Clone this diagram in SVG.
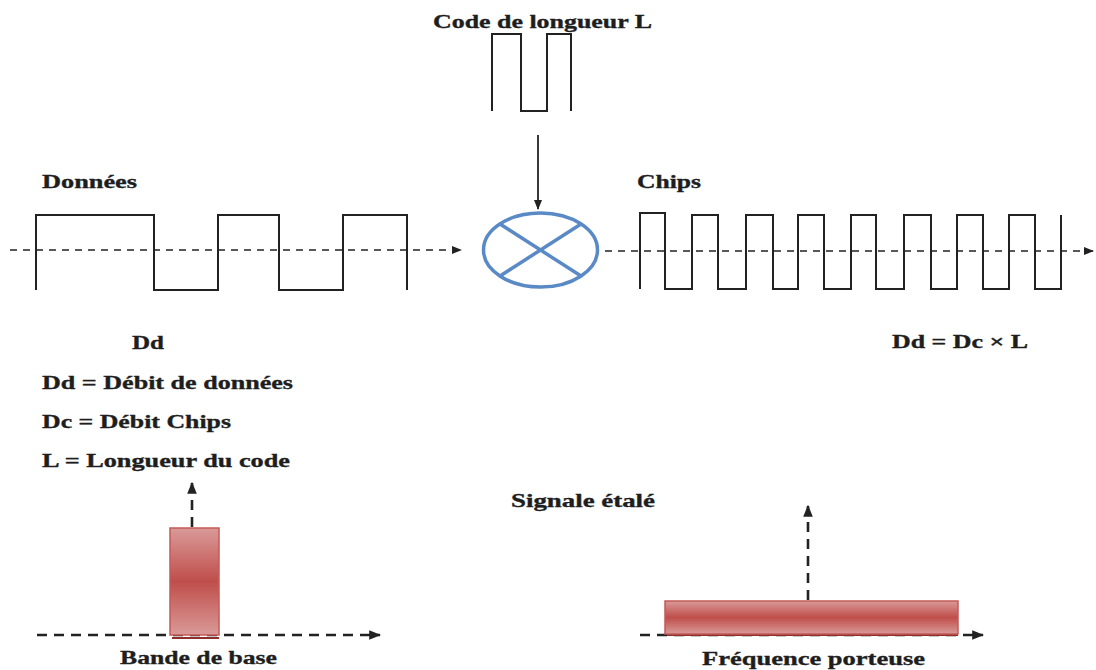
<svg xmlns="http://www.w3.org/2000/svg" width="1096" height="670" viewBox="0 0 1096 670">
<style>
.t{font-family:"Liberation Serif","Times New Roman",serif;font-weight:bold;font-size:19px;fill:#1e1e1e;stroke:#1e1e1e;stroke-width:0.35}
.sig{fill:none;stroke:#222;stroke-width:2;stroke-linejoin:miter}
.ax{fill:none;stroke:#222;stroke-width:1.6;stroke-dasharray:7 6}
.ax2{fill:none;stroke:#222;stroke-width:2.6;stroke-dasharray:10 7}
.bar{stroke:#c45a57;stroke-width:1.5}
</style>
<defs>
<marker id="ah" viewBox="0 0 10 10" refX="9" refY="5" markerWidth="10" markerHeight="10" markerUnits="userSpaceOnUse" orient="auto">
<path d="M0,1 L10,5 L0,9 Z" fill="#222"/>
</marker>
<marker id="ah2" viewBox="0 0 10 10" refX="9" refY="5" markerWidth="12" markerHeight="12" markerUnits="userSpaceOnUse" orient="auto">
<path d="M0,1 L10,5 L0,9 Z" fill="#222"/>
</marker>
<linearGradient id="g1" x1="0" y1="0" x2="0" y2="1">
<stop offset="0" stop-color="#d99a98"/>
<stop offset="0.5" stop-color="#bf4e4b"/>
<stop offset="1" stop-color="#d99a98"/>
</linearGradient>
</defs>

<g id="connectors">
<line class="ax" x1="10" y1="250" x2="461" y2="250" marker-end="url(#ah)"/>
<line class="ax" x1="605" y1="251" x2="1093" y2="251" marker-end="url(#ah)"/>
<line x1="538" y1="135" x2="538" y2="209" stroke="#222" stroke-width="1.8" marker-end="url(#ah)"/>
<line class="ax2" x1="37" y1="635" x2="380" y2="635" marker-end="url(#ah2)"/>
<line class="ax2" x1="192" y1="527" x2="192" y2="483" marker-end="url(#ah2)"/>
<line class="ax2" x1="640" y1="635" x2="983" y2="635" marker-end="url(#ah2)"/>
<line class="ax2" x1="808" y1="600" x2="808" y2="506" marker-end="url(#ah2)"/>
</g>

<g id="code">
<text class="t" x="433" y="28" textLength="219" lengthAdjust="spacingAndGlyphs">Code de longueur L</text>
<path class="sig" d="M492,111 V34 H521 V111 H547 V34 H571 V111"/>
</g>

<g id="donnees">
<text class="t" x="42" y="188" textLength="95" lengthAdjust="spacingAndGlyphs">Données</text>
<path class="sig" d="M36,290 V215 H154 V290 H218 V215 H279 V290 H343 V215 H407 V290"/>
</g>

<g id="multiplier">
<ellipse cx="540.5" cy="250" rx="57" ry="37" fill="none" stroke="#5a8ac6" stroke-width="3.5"/>
<line x1="500" y1="224" x2="581" y2="276" stroke="#5a8ac6" stroke-width="3.5"/>
<line x1="500" y1="276" x2="581" y2="224" stroke="#5a8ac6" stroke-width="3.5"/>
</g>

<g id="chips">
<text class="t" x="637" y="188" textLength="64" lengthAdjust="spacingAndGlyphs">Chips</text>
<path class="sig" d="M640,289 V213 H665 V289 H692 V215 H718 V289 H746 V215 H773 V289 H798 V215 H824 V289 H851 V215 H876 V289 H904 V215 H931 V289 H957 V215 H983 V289 H1009 V215 H1035 V289 H1061 V215"/>
</g>

<g id="legend">
<text class="t" x="132" y="349" textLength="32" lengthAdjust="spacingAndGlyphs">Dd</text>
<text class="t" x="42" y="389" textLength="251" lengthAdjust="spacingAndGlyphs">Dd = Débit de données</text>
<text class="t" x="42" y="428" textLength="189" lengthAdjust="spacingAndGlyphs">Dc = Débit Chips</text>
<text class="t" x="42" y="467" textLength="248" lengthAdjust="spacingAndGlyphs">L = Longueur du code</text>
<text class="t" x="892" y="348" textLength="136" lengthAdjust="spacingAndGlyphs">Dd = Dc × L</text>
</g>

<g id="bande-de-base">
<rect x="172" y="637" width="47" height="2" fill="#8e2f2c"/>
<rect class="bar" x="170" y="528" width="49" height="107" fill="url(#g1)"/>
<text class="t" x="120" y="664" textLength="157" lengthAdjust="spacingAndGlyphs">Bande de base</text>
</g>

<g id="signal-etale">
<text class="t" x="511" y="507" textLength="144" lengthAdjust="spacingAndGlyphs">Signale étalé</text>
<rect x="667" y="634" width="291" height="2" fill="#8e2f2c"/>
<rect class="bar" x="665" y="601" width="293" height="33" fill="url(#g1)"/>
<text class="t" x="702" y="665" textLength="223" lengthAdjust="spacingAndGlyphs">Fréquence porteuse</text>
</g>
</svg>
